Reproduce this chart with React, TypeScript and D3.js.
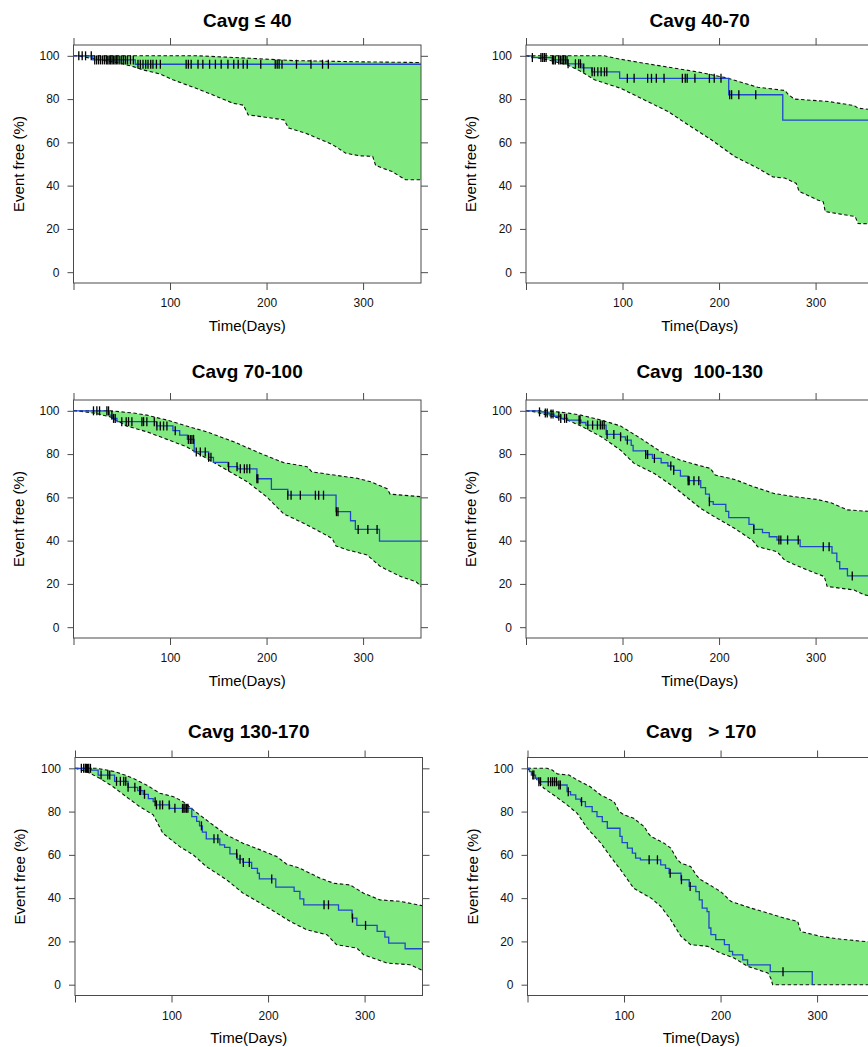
import * as d3 from 'd3';
import { useEffect, useRef } from 'react';

type Pt = [number, number];

// panel titles, read left to right, top to bottom
const titles = ['Cavg \u2264 40', 'Cavg 40-70', 'Cavg 70-100', 'Cavg  100-130', 'Cavg 130-170', 'Cavg   > 170'];

const xTicks = [0, 100, 200, 300];
const yTicks = [0, 20, 40, 60, 80, 100];

// Kaplan-Meier steps [day, event free %]; the last point is where the curve stops
const km1: Pt[] = [[0, 100], [20, 98.1], [64, 96.1], [360, 96.1]];
const km2: Pt[] = [[0, 100], [6, 99.2], [27, 98.1], [43, 96.3], [58, 94.4], [68, 92.6], [97, 89.6], [210, 82], [266, 70.3], [360, 70.3]];
const km3: Pt[] = [[0, 100], [37, 98], [40, 96.5], [45, 95], [86, 93], [103, 90.8], [110, 88.8], [118, 86.8], [125, 81], [140, 78.5], [145, 76.2], [160, 74.2], [170, 73.2], [190, 68.6], [205, 63.7], [222, 61], [272, 53.4], [287, 49.2], [292, 45.2], [317, 39.8], [360, 39.8]];
const km4: Pt[] = [[0, 100], [14, 99.5], [19, 99], [24, 98.5], [29, 97.5], [36, 96.5], [43, 95.7], [57, 94.6], [62, 93.4], [83, 89.1], [98, 88], [103, 86.5], [109, 84], [111, 81.5], [124, 79.8], [131, 78], [140, 76], [147, 74.5], [153, 72.5], [160, 69.8], [168, 67.7], [181, 64.5], [186, 61.5], [190, 58], [194, 56.8], [207, 53.5], [210, 50.6], [231, 47.5], [236, 45.2], [245, 43.7], [252, 41.8], [260, 40.3], [284, 37.2], [317, 34.2], [322, 30.3], [325, 27], [333, 23.7], [360, 23.7]];
const km5: Pt[] = [[0, 100], [17, 99.2], [24, 96.9], [41, 94], [55, 91.2], [65, 89.7], [70.6, 88], [76, 86], [81, 84.6], [84, 83.1], [98, 81.5], [121, 77.7], [126, 75.5], [129, 73.4], [132, 70.5], [136, 67.4], [150, 64.6], [155, 63.5], [160.5, 60.5], [168, 58], [174, 56.5], [183, 53.8], [189, 51.5], [191, 48.9], [208, 45.1], [227, 43.1], [233, 39.7], [237, 36.9], [273, 34.5], [287, 30.8], [292, 27.4], [313, 24.6], [321, 22], [325, 19.2], [342, 16.6], [360, 16.6]];
const km6: Pt[] = [[0, 100], [2, 98.5], [4, 96.9], [8.3, 95.4], [11.8, 93.8], [30.8, 92.3], [41, 89.2], [44.6, 87.7], [50, 85.8], [55, 84.6], [60, 82.3], [67, 80], [72, 77.7], [77.5, 75.4], [82.7, 72.3], [95.8, 68.5], [98, 65.7], [103.5, 63.1], [108.6, 60.8], [112, 58.5], [117, 57.7], [138, 55.4], [143, 53.8], [146.7, 51.5], [159, 48.5], [167.5, 45.4], [174.4, 43], [178, 39.2], [181, 35.4], [186, 33.8], [188, 26.2], [190, 23.1], [195, 20.8], [204, 18.5], [209, 15.4], [212.5, 13.8], [223, 11.5], [228, 9.2], [251.5, 6], [295, 0]];

// censored patients (days)
const cens1 = [5.5, 9, 12.5, 18.4, 22, 24, 26, 28, 30, 32, 34, 35.5, 37, 38.5, 40, 41.5, 43, 44.5, 46, 48, 50, 52, 54, 56, 59, 62, 66.8, 69.2, 72, 74.8, 77.2, 80, 82.3, 85.9, 90, 116.7, 119, 121.9, 129, 134, 141, 147, 153, 160, 166, 170.6, 175.8, 180, 194, 209, 211, 213, 216, 231, 246, 258, 264];
const cens2 = [6.6, 15.5, 17.3, 19, 20.8, 27.5, 28.7, 30.4, 33.9, 35.6, 37.4, 39, 40.8, 42.5, 43.6, 51.2, 54.6, 56.4, 59.8, 68.5, 70.9, 74.4, 77.8, 81.3, 83.7, 105, 112, 126, 130, 135, 143, 162, 165, 167, 175, 190, 195, 202, 211, 213, 220.5, 238];
const cens3 = [20.7, 24.2, 27, 34.6, 36.3, 39.8, 41.5, 43.2, 50, 54.6, 57, 60.5, 70.9, 72.6, 76, 83.7, 86.4, 89.9, 93.3, 96.8, 105.4, 119, 121, 122.7, 124.4, 127.2, 131.4, 136.5, 140, 142.4, 160.7, 169.4, 172.8, 177, 179.7, 182.5, 190, 191, 222, 225.4, 235, 250.6, 254, 259, 272.4, 274, 294.9, 304.9, 314.5];
const cens4 = [14, 20, 22, 26, 28, 34, 36, 40, 42, 55, 56, 64, 69, 74, 77, 79, 81, 84, 91, 98, 105, 124, 126, 133, 150, 153, 168, 169, 174, 179, 190, 236, 262, 264, 271, 282, 308, 314, 338];
const cens5 = [6.6, 9, 10.7, 11.8, 12.8, 14.2, 16, 27, 34, 36, 43, 47, 50.5, 52.6, 55, 62, 67, 68, 72, 83, 84.4, 88, 90.7, 97.6, 103.5, 111.4, 112.8, 114, 115.6, 117, 131, 144, 148, 167.5, 171, 174.4, 180.6, 203.8, 258, 262.6, 287.5, 301];
const cens6 = [5.5, 6.6, 11.8, 13.5, 21.5, 24, 26, 28, 30, 32.5, 34, 42.2, 56, 126, 134.6, 147.8, 159.5, 168.5, 264.7];

// 95% confidence band, upper and lower edges
const up1: Pt[] = [[0, 100], [130, 100], [182, 98.9], [227, 97.8], [300, 97.2], [360, 96.9]];
const lo1: Pt[] = [[0, 100], [3, 100], [27.5, 98.2], [48, 96.6], [62, 95], [72, 93.5], [89, 91.7], [103, 88.9], [124, 85.5], [144, 82], [165, 78.1], [176, 77.2], [181, 72.7], [199, 71.6], [218, 70.4], [223, 66.6], [240, 64.3], [261, 60.4], [270, 58.5], [282, 55], [296, 53.8], [310, 53.5], [313, 49.3], [330, 46.5], [344, 42.7], [360, 42.7]];
const up2: Pt[] = [[0, 100], [81, 100], [97, 98.5], [126, 96.3], [154, 94.3], [181, 92.3], [209, 89.7], [240, 85.5], [268, 84], [272, 82], [278, 80], [313, 78.9], [340, 77], [344, 75.8], [360, 75]];
const lo2: Pt[] = [[0, 100], [22, 98.2], [43, 95.8], [57, 92.8], [71, 88.9], [98, 85], [119, 80.4], [147, 74.3], [168, 68.1], [192, 61.2], [216, 53.5], [240, 48.1], [256, 44], [268, 43.5], [280, 41], [283, 37.3], [302, 33.4], [308, 32.5], [310, 28], [341, 25.7], [344, 22.5], [360, 22.3]];
const up3: Pt[] = [[0, 100], [38, 100], [62, 99], [76, 98], [97, 95.7], [117, 93], [138, 90.3], [166, 85.7], [194, 80.3], [218, 76], [242, 74.2], [247, 71.8], [270, 70.3], [294, 68.8], [308, 67.2], [325, 64], [328, 61.5], [360, 60.3]];
const lo3: Pt[] = [[0, 100], [3, 100], [21, 99], [38, 97.2], [55, 93], [76, 90.3], [97, 86.8], [117, 83.4], [138, 78], [159, 72.6], [180, 67.2], [200, 60.3], [218, 52.3], [235, 48.8], [252, 44.9], [268, 41], [272, 37.5], [284, 35.7], [304, 33.4], [318, 28], [339, 23.4], [355, 21], [360, 18.8]];
const up4: Pt[] = [[0, 100], [22, 100], [43, 99], [57, 98], [78, 95.7], [98, 93], [119, 87.2], [140, 81], [160, 77.2], [178, 74.9], [191, 73.4], [196, 70.3], [216, 68.3], [236, 64.9], [257, 61.8], [278, 60.3], [302, 59], [316, 57.5], [333, 54.2], [360, 53.4]];
const lo4: Pt[] = [[0, 100], [9, 99.5], [22, 98], [43, 95.7], [57, 93], [78, 88], [98, 81.8], [112, 75.7], [133, 71], [153, 64.9], [181, 54.9], [195, 51.1], [216, 45.7], [235, 40], [240, 37.2], [260, 34.9], [268, 31], [271, 30.3], [291, 26.5], [309, 23.4], [312, 18.8], [340, 17.2], [350, 15], [360, 14.2]];
const up5: Pt[] = [[0, 100], [22, 100], [32.5, 99.2], [41, 98.5], [51.6, 96.9], [60, 95.4], [74, 92.3], [88, 88.5], [102, 86.9], [112, 84.6], [122.5, 80.8], [129, 78.5], [143, 73.8], [157, 69.2], [174, 65.4], [192, 62.3], [209, 59.2], [219, 55.8], [233, 53.8], [254, 49.2], [268, 46.9], [285, 46.1], [299, 42.3], [316, 39.2], [337, 38.5], [360, 36.5]];
const lo5: Pt[] = [[0, 100], [12, 98.5], [25.6, 95.4], [39.5, 91.5], [53, 86.9], [67, 82.3], [81, 78.5], [91, 70], [108.6, 63.8], [122.5, 60], [136, 54.6], [157, 48.5], [174, 42.3], [192, 37.7], [209, 33.1], [223, 29.2], [240, 25.4], [261, 23.1], [271, 18.5], [292, 16.9], [299, 13.8], [323, 10], [347, 9.2], [360, 6.6]];
const up6: Pt[] = [[0, 100], [20.4, 100], [25.6, 99.2], [31, 97.4], [43, 96.9], [51.5, 94.6], [65, 91.5], [75.8, 87.7], [89.6, 84.6], [95, 80], [100, 78.5], [110, 76.9], [121, 73], [125, 70], [128, 68.5], [141.5, 65.4], [148.4, 63.1], [155, 58], [159, 56.2], [169, 54.6], [176, 50], [179.6, 48.5], [200, 43.1], [210.7, 38.5], [231.5, 35.4], [249, 33.1], [266, 30.8], [280, 29.2], [283, 24.6], [304, 22.3], [325, 21], [360, 19.5]];
const lo6: Pt[] = [[0, 100], [5, 97.7], [10, 94.6], [17, 90.8], [27, 87.7], [41, 83.1], [51.5, 79.2], [62, 72.3], [76, 65.4], [86, 59.2], [96.5, 53.1], [110, 44.6], [128, 40], [138, 36.2], [148.4, 30], [159, 22.3], [169, 18.5], [186.5, 17.7], [200, 14.6], [214, 12.3], [228, 8.5], [249, 5.4], [252, 3], [254, 0], [360, 0]];

const kms = [km1, km2, km3, km4, km5, km6];
const censors = [cens1, cens2, cens3, cens4, cens5, cens6];
const uppers = [up1, up2, up3, up4, up5, up6];
const lowers = [lo1, lo2, lo3, lo4, lo5, lo6];

// page position of each panel box (left, top) and title baseline
const boxes = [
  { x: 73.5, y: 45, ty: 26.5 },
  { x: 526, y: 45, ty: 26.5 },
  { x: 73.5, y: 400, ty: 378 },
  { x: 526, y: 400, ty: 378 },
  { x: 75, y: 757.5, ty: 737.5 },
  { x: 527.5, y: 757.5, ty: 737.5 },
];
const W = 347.5;
const H = 238;
const FONT = 'Liberation Sans, Arial, Helvetica, sans-serif';
const GREEN = '#80e97f';
const BLUE = '#1f48cc';
const AXIS = '#4a4a4a';

const App = () => {
  const svgRef = useRef<SVGSVGElement>(null);

  useEffect(() => {
    const svg = d3.select(svgRef.current);
    svg.selectAll('*').remove();

    titles.forEach((title, i) => {
      const b = boxes[i];
      const x = d3.scaleLinear().domain([0, 360]).range([b.x, b.x + W]);
      const y = d3.scaleLinear().domain([-5, 105]).range([b.y + H, b.y]);
      const g = svg.append('g');

      const line = d3.line<Pt>().x(d => x(d[0])).y(d => y(d[1]));
      const step = d3.line<Pt>().x(d => x(d[0])).y(d => y(d[1])).curve(d3.curveStepAfter);

      // confidence band
      const band = uppers[i].concat(lowers[i].slice().reverse());
      g.append('path')
        .attr('d', line(band) + 'Z')
        .attr('fill', GREEN);

      [uppers[i], lowers[i]].forEach(edge => {
        g.append('path')
          .attr('d', line(edge))
          .attr('fill', 'none')
          .attr('stroke', '#111')
          .attr('stroke-width', 1.1)
          .attr('stroke-dasharray', '3.5,2.5');
      });

      // survival curve
      g.append('path')
        .attr('d', step(kms[i]))
        .attr('fill', 'none')
        .attr('stroke', BLUE)
        .attr('stroke-width', 1.3);

      // censor marks sit on the curve
      const km = kms[i];
      const bis = d3.bisector((d: Pt) => d[0]).right;
      const surv = (t: number) => km[Math.max(0, bis(km, t) - 1)][1];
      g.selectAll('line.cens')
        .data(censors[i])
        .join('line')
        .attr('class', 'cens')
        .attr('x1', d => x(d))
        .attr('x2', d => x(d))
        .attr('y1', d => y(surv(d)) - 4.5)
        .attr('y2', d => y(surv(d)) + 4.5)
        .attr('stroke', '#000')
        .attr('stroke-width', 1.3);

      // axes on all four sides, labels only left and bottom
      const style = (a: any) => {
        a.select('.domain').remove();
        a.selectAll('line').attr('stroke', AXIS);
        a.selectAll('text').attr('fill', '#111').attr('font-size', 12).attr('font-family', FONT);
        a.attr('font-family', null).attr('font-size', null);
      };
      g.append('g')
        .attr('transform', `translate(${b.x},0)`)
        .call(d3.axisLeft(y).tickValues(yTicks).tickSize(6).tickPadding(8))
        .call(style);
      g.append('g')
        .attr('transform', `translate(${b.x + W},0)`)
        .call(d3.axisRight(y).tickValues(yTicks).tickSize(7).tickFormat(() => ''))
        .call(style);
      g.append('g')
        .attr('transform', `translate(0,${b.y + H})`)
        .call(d3.axisBottom(x).tickValues(xTicks).tickSize(7).tickPadding(8.5)
          .tickFormat(d => (+d === 0 ? '' : String(d))))
        .call(style);
      g.append('g')
        .attr('transform', `translate(0,${b.y})`)
        .call(d3.axisTop(x).tickValues(xTicks).tickSize(7).tickFormat(() => ''))
        .call(style);

      g.append('rect')
        .attr('x', b.x)
        .attr('y', b.y)
        .attr('width', W)
        .attr('height', H)
        .attr('fill', 'none')
        .attr('stroke', AXIS)
        .attr('stroke-width', 1);

      // titles and axis labels
      g.append('text')
        .attr('x', b.x + W / 2)
        .attr('y', b.ty)
        .attr('text-anchor', 'middle')
        .attr('font-family', FONT)
        .attr('font-weight', 'bold')
        .attr('font-size', 19)
        .style('white-space', 'pre')
        .text(title);
      g.append('text')
        .attr('x', b.x + W / 2)
        .attr('y', b.y + H + 47.5)
        .attr('text-anchor', 'middle')
        .attr('font-family', FONT)
        .attr('font-size', 15)
        .text('Time(Days)');
      g.append('text')
        .attr('transform', `translate(${b.x - 50},${b.y + H / 2}) rotate(-90)`)
        .attr('text-anchor', 'middle')
        .attr('font-family', FONT)
        .attr('font-size', 15)
        .text('Event free (%)');
    });
  }, []);

  return (
    <svg
      ref={svgRef}
      width={868}
      height={1047}
      style={{ position: 'absolute', left: 0, top: 0, background: '#fff' }}
    ></svg>
  );
};

export default App;
